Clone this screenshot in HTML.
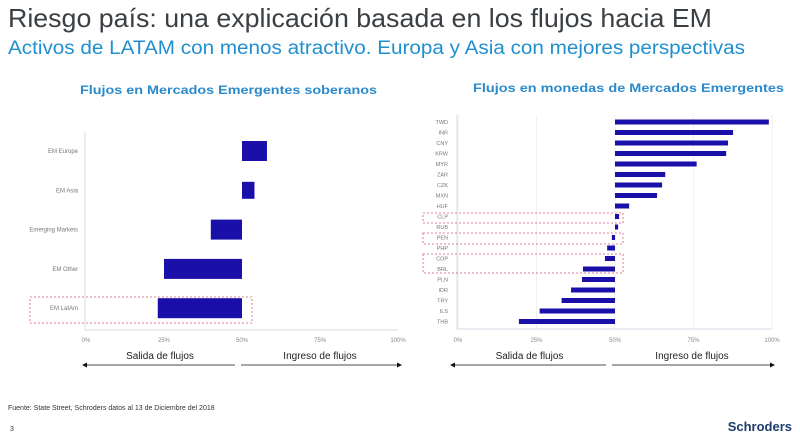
<!DOCTYPE html>
<html><head><meta charset="utf-8"><style>
body{margin:0;width:800px;height:444px;background:#fff;font-family:"Liberation Sans",sans-serif;overflow:hidden;position:relative}
svg{position:absolute;left:0;top:0}
</style></head><body>
<svg width="800" height="444" xmlns="http://www.w3.org/2000/svg">
<text x="8" y="27" font-size="26" fill="#3a3f44" textLength="704" lengthAdjust="spacingAndGlyphs">Riesgo país: una explicación basada en los flujos hacia EM</text>
<text x="8" y="54" font-size="19" fill="#1f8fd0" textLength="737" lengthAdjust="spacingAndGlyphs">Activos de LATAM con menos atractivo. Europa y Asia con mejores perspectivas</text>
<text x="80" y="94" font-size="12" font-weight="bold" fill="#2a8acb" textLength="297" lengthAdjust="spacingAndGlyphs">Flujos en Mercados Emergentes soberanos</text>
<text x="473" y="92" font-size="12" font-weight="bold" fill="#2a8acb" textLength="311" lengthAdjust="spacingAndGlyphs">Flujos en monedas de Mercados Emergentes</text>
<g id="left"></g><g id="right"></g>
<text x="8" y="410" font-size="7" fill="#333">Fuente: State Street, Schroders datos al 13 de Diciembre del 2018</text>
<text x="10" y="431" font-size="7" fill="#333">3</text>
<text x="792" y="431" font-size="13" font-weight="bold" fill="#1c3b6e" text-anchor="end">Schroders</text>
</svg>
<script>
const leftCats=["EM Europe","EM Asia","Emerging Markets","EM Other","EM LatAm"];
const leftVals=[58,54,40,25,23];
const rightCats=["TWD","INR","CNY","KRW","MYR","ZAR","CZK","MXN","HUF","CLP","RUB","PEN","PHP","COP","BRL","PLN","IDR","TRY","ILS","THB"];
const rightVals=[99,87.6,86,85.4,76,66,65,63.4,54.5,51.3,51,49,47.5,46.8,39.8,39.5,36,33,26,19.4];
const leftTicks=["0%","25%","50%","75%","100%"];
const rightTicks=["0%","25%","50%","75%","100%"];
const NS="http://www.w3.org/2000/svg";
function mk(p,t,a){const e=document.createElementNS(NS,t);for(const k in a)e.setAttribute(k,a[k]);p.appendChild(e);return e;}
function arrows(g,x0,xm,x1,ty,ay){
  let t=mk(g,'text',{x:(x0+xm)/2,y:ty,'font-size':10,fill:'#222','text-anchor':'middle'});t.textContent='Salida de flujos';
  
  
  t=mk(g,'text',{x:(xm+x1)/2,y:ty,'font-size':10,fill:'#222','text-anchor':'middle'});t.textContent='Ingreso de flujos';
  
  
  let l=mk(g,'line',{x1:x0+4,y1:ay,x2:xm-3,y2:ay,stroke:'#888','stroke-width':1.5});
  
  
  mk(g,'polygon',{points:`${x0},${ay} ${x0+5},${ay-2.5} ${x0+5},${ay+2.5}`,fill:'#111'});
  l=mk(g,'line',{x1:xm+3,y1:ay,x2:x1-4,y2:ay,stroke:'#888','stroke-width':1.5});
  
  
  mk(g,'polygon',{points:`${x1},${ay} ${x1-5},${ay-2.5} ${x1-5},${ay+2.5}`,fill:'#111'});
}
(function(){
  const g=document.getElementById('left');
  const xs=v=>86+v*3.12;
  const ys=i=>151+i*39.3;
  mk(g,'line',{x1:85,y1:132,x2:85,y2:330,stroke:'#dde3ea','stroke-width':1.2});
  mk(g,'line',{x1:85,y1:330,x2:398,y2:330,stroke:'#dde3ea','stroke-width':1.2});
  leftTicks.forEach((t,i)=>{const e=mk(g,'text',{x:xs(i*25),y:342,'font-size':6,fill:'#888','text-anchor':'middle'});e.textContent=t;
    
    });
  leftCats.forEach((c,i)=>{
    const y=ys(i),v=leftVals[i];
    const e=mk(g,'text',{x:78,y:y+2,'font-size':6,fill:'#777','text-anchor':'end'});e.textContent=c;
    
    
    const h=i==1?17:20;
    const r=mk(g,'rect',{x:Math.min(xs(v),xs(50)),y:y-h/2,width:Math.abs(xs(v)-xs(50)),height:h,fill:'#1a0fa8'});
    
    
  });
  const b=mk(g,'rect',{x:30,y:297,width:222,height:26,fill:'none',stroke:'#d9587a','stroke-dasharray':'2,2','stroke-width':0.8});
  
  
  arrows(g,82,238,402,359,365);
})();
(function(){
  const g=document.getElementById('right');
  const xs=v=>458+v*3.14;
  const ys=i=>122+i*10.5;
  rightTicks.forEach((t,i)=>{mk(g,'line',{x1:xs(i*25),y1:115,x2:xs(i*25),y2:329,stroke:'#f0f0f0','stroke-width':1});
    const e=mk(g,'text',{x:xs(i*25),y:342,'font-size':6,fill:'#888','text-anchor':'middle'});e.textContent=t;
    
    });
  mk(g,'line',{x1:457,y1:115,x2:457,y2:329,stroke:'#dde3ea','stroke-width':1.2});
  mk(g,'line',{x1:457,y1:329,x2:772,y2:329,stroke:'#dde3ea','stroke-width':1.2});
  rightCats.forEach((c,i)=>{
    const y=ys(i),v=rightVals[i];
    const e=mk(g,'text',{x:448,y:y+2,'font-size':5.5,fill:'#777','text-anchor':'end'});e.textContent=c;
    
    
    const r=mk(g,'rect',{x:Math.min(xs(v),xs(50)),y:y-2.5,width:Math.max(1.5,Math.abs(xs(v)-xs(50))),height:5,fill:'#1a0fa8'});
    
    
  });
  [[213,10,'clp'],[233,11,'pen'],[254,19,'cop-brl']].forEach(b=>{
    const r=mk(g,'rect',{x:423,y:b[0],width:200,height:b[1],fill:'none',stroke:'#d9587a','stroke-dasharray':'2,2','stroke-width':0.8});
    
    
  });
  arrows(g,450,609,775,359,365);
})();
</script>
</body></html>
